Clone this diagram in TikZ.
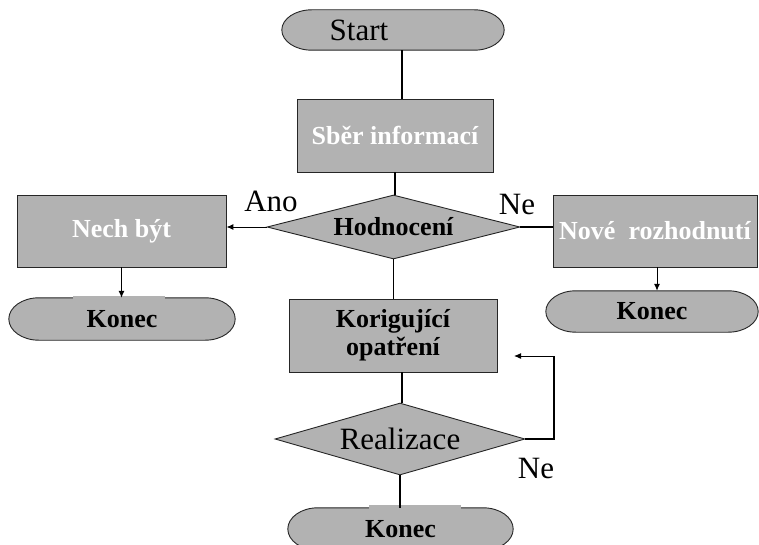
\documentclass[tikz,border=0pt]{standalone}
\usepackage{fontspec}
\setmainfont{Liberation Serif}
\usetikzlibrary{shapes.geometric,arrows.meta,calc}
\definecolor{gfill}{RGB}{178,178,178}
\newcommand\myn{\fontsize{31}{34}\selectfont}
\newcommand\myb{\fontsize{26}{28}\selectfont\bfseries}
\pgfdeclarelayer{bg}
\pgfsetlayers{bg,main}
\newcommand\stad[1]{%
  \path[termshape] let \p1=(#1.north west), \p2=(#1.south east), \n1={(\y1-\y2)/2} in
    (\x1+30pt,\y1) -- (\x2-30pt,\y1)
    arc[start angle=90,end angle=-90,x radius=30pt,y radius=\n1]
    -- (\x1+30pt,\y2)
    arc[start angle=270,end angle=90,x radius=30pt,y radius=\n1] -- cycle;}
\begin{document}
\begin{tikzpicture}[x=1pt,y=-1pt,
  proc/.style={draw=black!85, line width=0.9pt, fill=gfill, inner sep=0pt, align=center},
  term/.style={inner sep=0pt},
  termshape/.style={draw=black!85, line width=0.9pt, fill=gfill},
  dec/.style={diamond, draw=black!85, line width=0.9pt, fill=gfill, inner sep=0pt},
  conn/.style={line width=1.6pt},
  arr/.style={line width=1pt, -{Latex[length=7pt,width=6pt]}},
  lab/.style={font=\myn, inner sep=0pt}]
\useasboundingbox (0,0) rectangle (759,545);
% nodes
\node[term, minimum width=222pt, minimum height=40pt, font=\myn] (start) at (393,30) {Start\hspace*{68pt}};
\node[proc, minimum width=196pt, minimum height=73pt, font=\myb, text=white] (sber) at (395,135.5) {Sběr informací};
\node[dec, aspect=3.95, minimum width=253pt, minimum height=64pt, font=\myb] (hodn) at (393.5,227) {Hodnocení};
\node[proc, minimum width=209pt, minimum height=72pt, font=\myb, text=white] (nech) at (121.5,231) {Nech být};
\node[proc, minimum width=204pt, minimum height=72pt, font=\myb, text=white] (nove) at (655,231) {Nové\ \ rozhodnutí};
\node[term, minimum width=226pt, minimum height=42pt, font=\myb] (konecA) at (122,319) {Konec};
\node[term, minimum width=212pt, minimum height=41pt, font=\myb] (konecB) at (652,311.5) {Konec};
\node[proc, minimum width=208pt, minimum height=73pt, font=\myb] (korig) at (393,335.5) {Korigující\\opatření};
\node[dec, aspect=3.47, minimum width=250pt, minimum height=72pt, font=\myn] (real) at (400,439) {Realizace};
\node[term, minimum width=225pt, minimum height=42pt, font=\myb] (konecC) at (400.5,529) {Konec};
% terminal outlines
\begin{pgfonlayer}{bg}
\stad{start}
\stad{konecA}
\stad{konecB}
\stad{konecC}
\end{pgfonlayer}
% gray strips over the terminal tops
\fill[gfill] ([xshift=-49pt,yshift=2pt]konecA.north) rectangle ([xshift=43pt,yshift=-3pt]konecA.north);
\fill[gfill] ([xshift=-31.5pt,yshift=3pt]konecC.north) rectangle ([xshift=60.5pt,yshift=-3pt]konecC.north);
% labels
\node[lab] (ano) at (271,201) {Ano};
\node[lab] (neA) at (517,205) {Ne};
\node[lab] (neB) at (536,468) {Ne};
% connectors
\draw[conn] ([xshift=9pt]start.south) -- ([xshift=9pt]start.south |- sber.north);
\draw[conn] (sber.south) -- (sber.south |- hodn.north);
\draw[arr] (hodn.west) -- (hodn.west -| nech.east);
\draw[conn] (hodn.east) -- (hodn.east -| nove.west);
\draw[arr] (nech.south) -- (nech.south |- konecA.north);
\draw[arr] ([xshift=2pt]nove.south) -- ([xshift=2pt]nove.south |- konecB.north);
\draw[conn] (hodn.south) -- (hodn.south |- korig.north);
\draw[conn] ([xshift=9pt]korig.south) -- ([xshift=9pt]korig.south |- real.north);
\draw[conn] (real.south) -- (real.south |- konecC.north);
\coordinate (fbc) at (554,356);
\coordinate (fb) at (514,356);
\draw[conn] (real.east) -| (fbc);
\draw[arr] (fbc) -- (fb);
\end{tikzpicture}
\end{document}
